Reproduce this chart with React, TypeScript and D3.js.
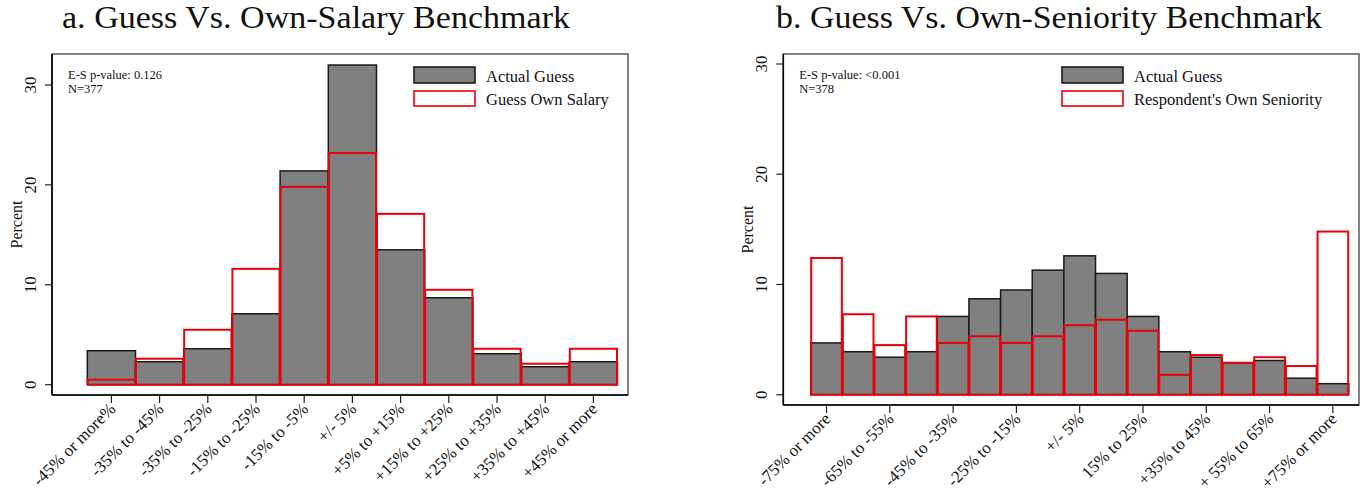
import React from "react";
import * as d3 from "d3";

// Panel a: salary-benchmark bins
const salaryBins = [
  "-45% or more%", "-35% to -45%", "-35% to -25%", "-15% to -25%", "-15% to -5%",
  "+/- 5%", "+5% to +15%", "+15% to +25%", "+25% to +35%", "+35% to +45%", "+45% or more",
];
const salaryActualGuess = [3.4, 2.3, 3.6, 7.1, 21.4, 32.0, 13.5, 8.7, 3.1, 1.8, 2.3];
const salaryOwnSalary = [0.5, 2.6, 5.5, 11.6, 19.8, 23.2, 17.1, 9.5, 3.6, 2.1, 3.6];

// Panel b: seniority-benchmark bins (17 bins, every other one labelled)
const seniorityTickLabels = [
  "-75% or more", "-65% to -55%", "-45% to -35%", "-25% to -15%", "+/- 5%",
  "15% to 25%", "+35% to 45%", "+ 55% to 65%", "+75% or more",
];
const seniorityActualGuess = [4.7, 3.9, 3.4, 3.9, 7.1, 8.7, 9.5, 11.3, 12.6, 11.0, 7.1, 3.9, 3.4, 2.9, 3.1, 1.5, 1.0];
const seniorityOwn = [12.4, 7.3, 4.5, 7.1, 4.7, 5.3, 4.7, 5.3, 6.3, 6.8, 5.8, 1.8, 3.6, 2.9, 3.4, 2.6, 14.8];

const yTicks = [0, 10, 20, 30];

const FONT = "'Liberation Serif', 'Times New Roman', serif";

type PanelProps = {
  title: string;
  titleX: number;
  titleWidth: number;
  frame: { x0: number; x1: number; y0: number; y1: number };
  yRange: [number, number];
  barRange: [number, number];
  actual: number[];
  other: number[];
  tickLabels: string[];
  tickEvery: number;
  pValue: string;
  n: string;
  legendX: number;
  otherLabel: string;
};

function Panel(p: PanelProps) {
  const { frame } = p;
  const y = d3.scaleLinear().domain([0, 30]).range(p.yRange);
  const x = d3
    .scaleBand<number>()
    .domain(d3.range(p.actual.length))
    .range(p.barRange)
    .paddingInner(0)
    .paddingOuter(0);
  const bw = x.bandwidth();
  const tickIdx = p.tickLabels.map((_, i) => i * p.tickEvery);
  const percentY = (frame.y0 + frame.y1) / 2;

  return (
    <g>
      <text
        x={p.titleX}
        y={27.5}
        fontFamily={FONT}
        fontSize={31}
        textLength={p.titleWidth}
        lengthAdjust="spacingAndGlyphs"
        fill="#111"
      >
        {p.title}
      </text>

      {/* frame */}
      <rect
        x={frame.x0}
        y={frame.y0}
        width={frame.x1 - frame.x0}
        height={frame.y1 - frame.y0}
        fill="#fff"
        stroke="#333"
        strokeWidth={1.2}
      />

      {/* actual guess bars */}
      {p.actual.map((v, i) => (
        <rect
          key={"a" + i}
          x={x(i)!}
          y={y(v)}
          width={bw}
          height={y(0) - y(v)}
          fill="#808080"
          stroke="#1a1a1a"
          strokeWidth={1.5}
        />
      ))}
      {/* benchmark outlines */}
      {p.other.map((v, i) => (
        <rect
          key={"o" + i}
          x={x(i)! + 0.5}
          y={y(v)}
          width={bw - 1}
          height={y(0) - y(v)}
          fill="none"
          stroke="#e8000b"
          strokeWidth={2}
        />
      ))}

      {/* axes */}
      <line x1={frame.x0} x2={frame.x0} y1={frame.y0} y2={frame.y1} stroke="#000" strokeWidth={1.6} />
      <line x1={frame.x0} x2={frame.x1} y1={frame.y1} y2={frame.y1} stroke="#000" strokeWidth={1.6} />

      {yTicks.map((t) => (
        <g key={"yt" + t}>
          <line x1={frame.x0 - 7} x2={frame.x0} y1={y(t)} y2={y(t)} stroke="#222" strokeWidth={1.2} />
          <text
            transform={`translate(${frame.x0 - 16},${y(t)}) rotate(-90)`}
            textAnchor="middle"
            fontFamily={FONT}
            fontSize={17}
            fill="#111"
          >
            {t}
          </text>
        </g>
      ))}
      <text
        transform={`translate(${frame.x0 - 30},${percentY}) rotate(-90)`}
        textAnchor="middle"
        fontFamily={FONT}
        fontSize={16}
        fill="#111"
      >
        Percent
      </text>

      {tickIdx.map((idx, i) => {
        const cx = x(idx)! + bw / 2;
        return (
          <g key={"xt" + i}>
            <line x1={cx} x2={cx} y1={frame.y1} y2={frame.y1 + 8} stroke="#222" strokeWidth={1.2} />
            <text
              transform={`translate(${cx + 5},${frame.y1 + 15}) rotate(-45)`}
              textAnchor="end"
              fontFamily={FONT}
              fontSize={17}
              fill="#111"
            >
              {p.tickLabels[i]}
            </text>
          </g>
        );
      })}

      {/* annotation */}
      <text x={frame.x0 + 16} y={79} fontFamily={FONT} fontSize={12.5} fill="#111">
        {p.pValue}
      </text>
      <text x={frame.x0 + 16} y={93} fontFamily={FONT} fontSize={12.5} fill="#111">
        {p.n}
      </text>

      {/* legend */}
      <rect x={p.legendX} y={67} width={61} height={16} fill="#808080" stroke="#1a1a1a" strokeWidth={1.6} />
      <rect x={p.legendX} y={91} width={61} height={15} fill="#fff" stroke="#e8000b" strokeWidth={1.6} />
      <text x={p.legendX + 72} y={81.5} fontFamily={FONT} fontSize={16.5} fill="#111">
        Actual Guess
      </text>
      <text x={p.legendX + 72} y={104.5} fontFamily={FONT} fontSize={16.5} fill="#111">
        {p.otherLabel}
      </text>
    </g>
  );
}

export default function App() {
  return (
    <svg width={1366} height={494} style={{ position: "absolute", left: 0, top: 0, background: "#fff" }}>
      <rect width={1366} height={494} fill="#fff" />
      <Panel
        title="a. Guess Vs. Own-Salary Benchmark"
        titleX={62}
        titleWidth={508}
        frame={{ x0: 52, x1: 628, y0: 54, y1: 395 }}
        yRange={[384.7, 85]}
        barRange={[87.3, 617.5]}
        actual={salaryActualGuess}
        other={salaryOwnSalary}
        tickLabels={salaryBins}
        tickEvery={1}
        pValue="E-S p-value: 0.126"
        n="N=377"
        legendX={414}
        otherLabel="Guess Own Salary"
      />
      <Panel
        title="b. Guess Vs. Own-Seniority Benchmark"
        titleX={776}
        titleWidth={546}
        frame={{ x0: 783.3, x1: 1359, y0: 54, y1: 405 }}
        yRange={[394.7, 64]}
        barRange={[810.7, 1348.7]}
        actual={seniorityActualGuess}
        other={seniorityOwn}
        tickLabels={seniorityTickLabels}
        tickEvery={2}
        pValue="E-S p-value: <0.001"
        n="N=378"
        legendX={1062}
        otherLabel="Respondent's Own Seniority"
      />
    </svg>
  );
}
